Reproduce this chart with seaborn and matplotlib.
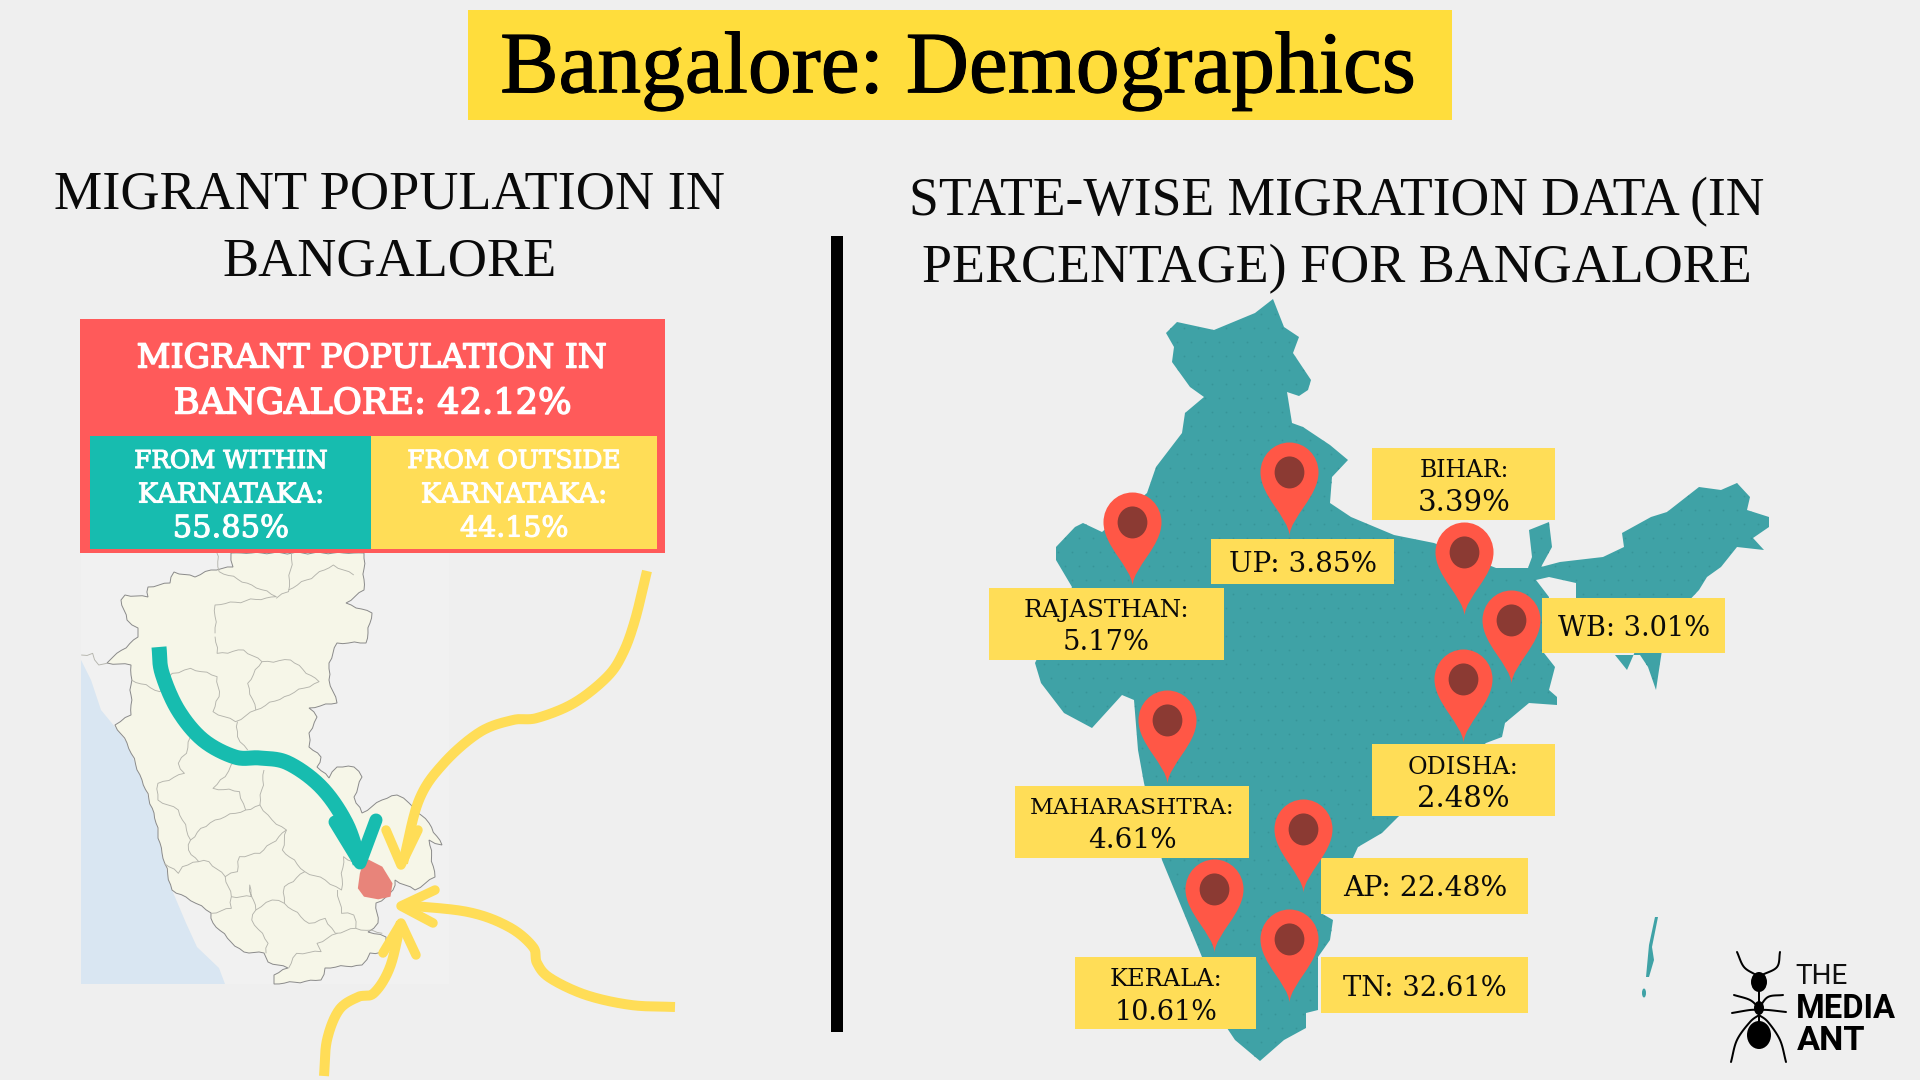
import numpy as np
import pandas as pd
import seaborn as sns
import matplotlib
matplotlib.use("Agg")
import matplotlib.pyplot as plt
import matplotlib.patheffects as pe
from matplotlib.font_manager import FontProperties
from matplotlib.patches import Ellipse, PathPatch, Polygon, Rectangle
from matplotlib.path import Path
from matplotlib.textpath import TextPath

# ---------- chart values ----------
states = ["UP", "Rajasthan", "Bihar", "WB", "Odisha", "Maharashtra", "AP", "Kerala", "TN"]
state_shares = [3.85, 5.17, 3.39, 3.01, 2.48, 4.61, 22.48, 10.61, 32.61]
migrant_share = 42.12
within_share = 55.85
outside_share = 44.15

# ---------- layout (figure pixels) ----------
pin_tip_x = [1289, 1132, 1464, 1511, 1463, 1167, 1303, 1214, 1289]
pin_tip_y = [535, 585, 615, 683, 742, 783, 892, 952, 1002]
label_box = [(1211, 539, 1394, 584), (989, 588, 1224, 660), (1372, 448, 1555, 520),
             (1542, 598, 1725, 653), (1372, 744, 1555, 816), (1015, 786, 1249, 858),
             (1321, 858, 1528, 914), (1075, 957, 1256, 1029), (1321, 957, 1528, 1013)]
# (centre x, y, width) for each text line of a label; two entries mean the label is split in two lines
label_lines = [[(1303, 561, 145)], [(1106, 608, 162), (1106, 640, 83)], [(1464, 468, 86), (1464, 500, 89)],
               [(1634, 625, 151)], [(1463, 765, 107), (1463, 796, 89)], [(1132, 806, 201), (1132, 838, 86)],
               [(1425, 886, 163)], [(1166, 977, 109), (1166, 1009, 98)], [(1425, 985, 162)]]

BG = "#EFEFEF"; YELLOW = "#FFDD57"; TITLE_Y = "#FFDD3C"; RED = "#FF5A5A"; TEAL = "#17BCAF"
MAP = "#3FA2A6"; PIN = "#FF5746"; PIN_IN = "#8B3A33"; INK = "#0A0A0A"

india = [(1273,299),(1284,327),(1299,337),(1293,353),(1311,380),(1308,390),(1299,396),(1287,392),(1292,423),
         (1303,427),(1330,445),(1348,460),(1332,477),(1330,503),(1351,517),(1394,535),(1434,543),(1496,568),
         (1528,568),(1532,557),(1529,530),(1549,522),(1552,547),(1541,567),(1560,562),(1603,557),(1624,547),
         (1622,533),(1651,517),(1667,512),(1699,487),(1721,490),(1737,483),(1750,497),(1747,510),(1769,517),
         (1769,527),(1753,538),(1764,550),(1737,547),(1721,567),(1707,577),(1699,590),(1683,607),(1678,627),
         (1662,650),(1656,690),(1648,667),(1640,655),(1615,655),(1627,670),(1640,640),(1640,625),(1576,598),
         (1576,583),(1549,577),(1536,580),(1549,597),(1544,653),(1555,667),(1549,690),(1557,697),(1557,705),
         (1529,703),(1505,723),(1502,737),(1486,743),(1398,817),(1382,833),(1358,847),(1352,860),(1321,913),
         (1333,920),(1330,940),(1318,957),(1318,1010),(1306,1013),(1306,1028),(1284,1040),(1260,1061),
         (1235,1040),(1217,1013),(1202,957),(1162,860),(1144,783),(1138,750),(1134,700),(1122,695),(1092,728),
         (1064,713),(1041,683),(1035,663),(1072,587),(1056,560),(1056,547),(1075,527),(1083,523),(1102,532),
         (1147,493),(1156,467),(1182,433),(1185,413),(1204,397),(1190,387),(1172,362),(1174,347),(1166,333),
         (1177,322),(1214,330),(1255,313)]
andaman = [(1658,917),(1652,947),(1654,960),(1649,977),(1646,977),(1649,945),(1655,917)]

sea = [(81,660),(91,680),(101,710),(115,727),(127,743),(142,780),(154,813),(162,853),(172,890),(186,923),
       (197,947),(219,968),(225,984),(81,984)]
karnataka = [(231,553),(233,567),(211,570),(195,577),(174,572),(170,583),(148,587),(148,597),(125,595),(121,600),
             (127,620),(138,628),(138,637),(113,657),(107,663),(131,665),(131,715),(115,725),(127,743),(142,780),
             (154,813),(162,853),(172,890),(186,897),(211,913),(213,923),(231,942),(244,952),(264,953),(268,962),
             (288,968),(274,975),(274,984),(321,980),(325,968),(362,965),(370,953),(386,952),(386,937),(368,932),
             (378,923),(376,903),(386,897),(393,890),(395,880),(415,890),(435,877),(429,840),(442,845),(429,823),
             (409,803),(397,795),(382,800),(362,813),(356,803),(354,797),(362,777),(354,767),(337,767),(329,778),
             (317,767),(321,757),(309,747),(309,733),(317,717),(309,708),(337,703),(329,680),(329,663),(337,643),
             (366,643),(372,613),(346,603),(364,590),(364,553)]
# district borders, traced in a zoomed frame: x = 60 + .408 zx, y = 640 + zy / 3
districts = [
    [(175,120),(245,155),(275,100),(320,85),(385,110),(390,170),(375,215),(430,245),(480,210),(550,170),(635,125),(565,60),(495,65),(450,30),(385,40),(380,-10)],
    [(480,210),(460,130),(495,65)], [(435,245),(435,290),(460,330)],
    [(320,290),(310,340),(290,370),(305,400),(240,430),(240,480),(290,510),(320,600),(315,630),(340,665),(300,680),(290,700),(255,670)],
    [(320,600),(345,565),(380,540),(455,510),(490,495),(520,540),(555,570),(490,640),(440,650),(435,695),(405,710),(365,665),(340,665)],
    [(430,360),(405,410),(375,445),(440,455),(455,510)], [(500,390),(490,495)],
    [(405,710),(420,770),(420,805),(370,820)],
    [(555,570),(545,630),(600,695),(650,720),(690,750),(695,650),(740,680)],
    [(600,695),(550,740),(550,790),(610,850),(650,835),(675,880),(725,865),(720,825),(690,820),(680,750)],
    [(550,790),(520,780),(480,810),(465,735),(470,770),(420,770)],
    [(480,810),(470,840),(510,910),(505,940)], [(680,880),(630,910),(640,935),(580,940),(560,985)],
    [(725,865),(790,880)],
    [(390,-205),(470,-165),(530,-130),(380,-105),(380,-20)], [(560,-150),(670,-225),(720,-195)],
    [(550,-365),(570,-275),(560,-145),(530,-125)], [(555,-275),(700,-315),(745,-325)],
    [(380,-295),(390,-205)],
    [(52,45),(80,40),(95,75),(115,70)],
]
bangalore = [(750,655),(790,680),(815,730),(810,770),(780,778),(745,770),(730,745),(735,700),(745,660)]


def z2(points):
    return [(60 + .408 * x, 640 + y / 3) for x, y in points]


def smooth(points, n=24):
    """Catmull-Rom curve through traced points."""
    p = np.array(points, float)
    p = np.vstack([2 * p[0] - p[1], p, 2 * p[-1] - p[-2]])
    out = []
    for i in range(1, len(p) - 2):
        for t in np.linspace(0, 1, n, endpoint=False):
            out.append(.5 * (2 * p[i] + (p[i + 1] - p[i - 1]) * t
                             + (2 * p[i - 1] - 5 * p[i] + 4 * p[i + 1] - p[i + 2]) * t ** 2
                             + (3 * p[i] - p[i - 1] - 3 * p[i + 1] + p[i + 2]) * t ** 3))
    out.append(p[-2])
    return np.array(out)


def rough(points, amp=1.1, step=5.0):
    """Give a traced border the jagged look of a map edge (a fixed wave, perpendicular to the border)."""
    p = np.asarray(points, float)
    out = []
    for a, b in zip(p[:-1], p[1:]):
        d = b - a
        length = max(np.hypot(*d), 1e-6)
        normal = np.array([-d[1], d[0]]) / length
        n = max(int(length / step), 1)
        for i in range(n):
            t = i / n
            wave = np.sin(np.pi * t * n * .5) * np.sin(np.pi * t) * amp
            out.append(a + d * t + normal * wave)
    out.append(p[-1])
    return np.array(out)


teal_arrow = [(159,647),(162,673),(178,710),(203,740),(235,757),(260,758),(288,763),(321,787),(346,823),(360,863)]
teal_head = [(335,822),(360,863),(376,820)]
yellow_arrows = [
    [(647,571),(635,620),(623,653),(607,677),(574,703),(537,718),(513,720),(480,732),(444,763),(419,800),(403,863)],
    [(675,1007),(631,1005),(586,995),(550,978),(537,963),(533,947),(509,927),(468,912),(403,905)],
    [(324,1076),(327,1040),(339,1010),(358,997),(374,993),(390,967),(401,922)],
]
yellow_heads = [[(386,830),(401,865),(418,830)], [(435,890),(401,906),(433,923)], [(383,953),(401,923),(416,955)]]

ant_lines = [
    [(1737,952),(1744,967),(1756,975)], [(1780,952),(1777,967),(1762,975)],
    [(1734,995),(1750,1000),(1759,1008)], [(1783,995),(1768,997),(1759,1008)],
    [(1732,1013),(1750,1010),(1759,1010)], [(1786,1012),(1768,1010),(1759,1010)],
    [(1731,1062),(1737,1040),(1750,1022),(1759,1015)], [(1786,1062),(1780,1040),(1768,1022),(1759,1015)],
    [(1759,985),(1759,1025)],
]

# ---------- figure ----------
sns.set_theme(style="white")
fig = plt.figure(figsize=(19.2, 10.8), dpi=100, facecolor=BG)
ax = fig.add_axes([0, 0, 1, 1])
ax.set_facecolor(BG)


def fit(x, y, s, width, family, color=INK, weight="normal", zorder=10, embolden=0):
    """Real text, sized so that its rendered width equals the given pixel width."""
    fp = FontProperties(family=family, weight=weight)
    em = TextPath((0, 0), s, size=1, prop=fp).get_extents().width
    t = ax.text(x, y, s, fontproperties=fp, fontsize=width / em * .72, color=color,
                ha="center", va="center_baseline", zorder=zorder)
    if embolden:
        t.set_path_effects([pe.withStroke(linewidth=embolden, foreground=color)])


def box(x0, y0, x1, y1, color, zorder=2):
    ax.add_patch(Rectangle((x0, y0), x1 - x0, y1 - y0, fc=color, ec="none", zorder=zorder))


def stroke(points, color, width_px, cap="butt", zorder=6):
    xy = np.asarray(points)
    ax.plot(xy[:, 0], xy[:, 1], color=color, lw=width_px * .72, solid_capstyle=cap,
            solid_joinstyle="round", zorder=zorder)


SERIF = "Liberation Serif"
HEAD = "DejaVu Serif"

# header and section titles
box(468, 10, 1452, 120, TITLE_Y)
fit(958, 62, "Bangalore: Demographics", 910, SERIF, "black", embolden=.8)
fit(390, 189, "MIGRANT POPULATION IN", 668, SERIF)
fit(390, 256, "BANGALORE", 330, SERIF)
fit(1337, 196, "STATE-WISE MIGRATION DATA (IN", 851, SERIF)
fit(1337, 263, "PERCENTAGE) FOR BANGALORE", 825, SERIF)
box(831, 236, 843, 1032, "black")

# Karnataka map
box(81, 553, 449, 984, "#F1F1F1", zorder=1)
ax.add_patch(Polygon(sea, fc="#D9E6F2", ec="none", zorder=1.5))
ax.add_patch(Polygon(rough(karnataka + karnataka[:1]), fc="#F6F6E8", ec="#8A8A8A", lw=.7, zorder=2))
for line in districts:
    stroke(rough(z2(line), amp=1.3), "#B4B4AC", .9, zorder=3)
ax.add_patch(Polygon(z2(bangalore), fc="#E8847A", ec="none", zorder=4))

stroke(smooth(teal_arrow), TEAL, 15, zorder=7)
stroke(teal_head, TEAL, 13, cap="round", zorder=7)
for path, head in zip(yellow_arrows, yellow_heads):
    stroke(smooth(path), YELLOW, 10, zorder=6)
    stroke(head, YELLOW, 9.5, cap="round", zorder=6)

# migrant panel
box(80, 319, 665, 553, RED, zorder=5)
box(90, 436, 371, 549, TEAL, zorder=5.1)
box(371, 436, 657, 549, YELLOW, zorder=5.1)
fit(372, 355, "MIGRANT POPULATION IN", 467, HEAD, "white", embolden=1.1)
fit(373, 400, f"BANGALORE: {migrant_share:.2f}%", 394, HEAD, "white", embolden=1.1)
fit(231, 459, "FROM WITHIN", 191, HEAD, "white", embolden=.8)
fit(231, 492, "KARNATAKA:", 182, HEAD, "white", embolden=.8)
fit(231, 526, f"{within_share:.2f}%", 112, HEAD, "white", embolden=.8)
fit(514, 459, "FROM OUTSIDE", 210, HEAD, "white", embolden=.8)
fit(514, 492, "KARNATAKA:", 182, HEAD, "white", embolden=.8)
fit(514, 526, f"{outside_share:.2f}%", 106, HEAD, "white", embolden=.8)

# India map with its faint dot texture
india_patch = Polygon(india, fc=MAP, ec="none", zorder=2)
ax.add_patch(india_patch)
ax.add_patch(Polygon(andaman, fc=MAP, ec="none", zorder=2))
ax.add_patch(Ellipse((1644, 993), 4, 9, fc=MAP, ec="none", zorder=2))
gx, gy = np.meshgrid(np.arange(1030, 1780, 14), np.arange(300, 1070, 14))
gx = gx + (np.arange(gy.shape[0]) % 2)[:, None] * 7
dots = ax.scatter(gx.ravel(), gy.ravel(), s=1.6, color="#379498", linewidths=0, zorder=2.1)
dots.set_clip_path(india_patch)

# state labels
for state, share, rect, lines in zip(states, state_shares, label_box, label_lines):
    box(*rect, YELLOW, zorder=4)
    value = f"{share:.2f}%"
    if len(lines) == 1:
        x, y, w = lines[0]
        fit(x, y, f"{state if len(state) <= 2 else state.upper()}: {value}", w, HEAD)
    else:
        (x, y, w), (x2, y2, w2) = lines
        fit(x, y, f"{state.upper()}:", w, HEAD)
        fit(x2, y2, value, w2, HEAD)

# location pins: marker origin is the pin tip, marker height is one unit
K = .5523
HW, CY = .312, .68
pin_path = Path(
    [(0, 0), (.015, .2), (HW, .42), (HW, CY), (HW, CY + K * (1 - CY)), (K * HW, 1), (0, 1),
     (-K * HW, 1), (-HW, CY + K * (1 - CY)), (-HW, CY), (-HW, .42), (-.015, .2), (0, 0), (0, 0)],
    [Path.MOVETO] + [Path.CURVE4] * 12 + [Path.CLOSEPOLY])
INNER_TOP = .85
inner_path = Path(Path.unit_circle().vertices * [.16, .172] + [0, INNER_TOP - .172], Path.unit_circle().codes)
PIN_PX = 93
pin_size = (PIN_PX * .72 * 2) ** 2
pins = pd.DataFrame({"state": states, "x": pin_tip_x, "y": pin_tip_y})
sns.scatterplot(data=pins, x="x", y="y", marker=pin_path, s=pin_size, color=PIN, linewidth=0,
                legend=False, ax=ax, zorder=8)
sns.scatterplot(data=pins, x="x", y="y", marker=inner_path, s=pin_size * INNER_TOP ** 2, color=PIN_IN, linewidth=0,
                legend=False, ax=ax, zorder=9)

# logo
for line in ant_lines:
    stroke(smooth(line) if len(line) > 2 else line, "black", 2, cap="round", zorder=5)
for cx, cy, rx, ry in [(1759, 982, 8, 10), (1759, 1008, 5, 7), (1759, 1035, 12, 14)]:
    ax.add_patch(Ellipse((cx, cy), 2 * rx, 2 * ry, fc="black", ec="none", zorder=5))
fit(1822, 974, "THE", 51, "Roboto", "#111111")
fit(1846, 1006, "MEDIA", 98, "Roboto", "black", weight="bold")
fit(1831, 1038, "ANT", 68, "Roboto", "black", weight="bold")

ax.set_xlim(0, 1920)
ax.set_ylim(1080, 0)
ax.axis("off")
fig.savefig("out.png", dpi=100, facecolor=BG)
